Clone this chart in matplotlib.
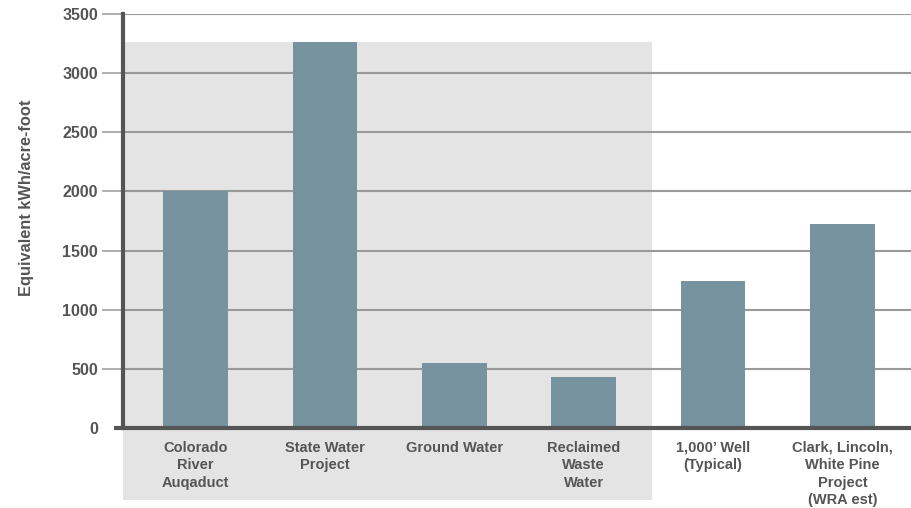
import matplotlib
matplotlib.use('Agg')
import matplotlib.pyplot as plt
from matplotlib.patches import Rectangle
import matplotlib.transforms as mtransforms

categories = ['Colorado\nRiver\nAuqaduct', 'State Water\nProject', 'Ground Water',
              'Reclaimed\nWaste\nWater', '1,000\u2019 Well\n(Typical)',
              'Clark, Lincoln,\nWhite Pine\nProject\n(WRA est)']
values = [2000, 3260, 550, 430, 1240, 1725]
y_ticks = [0, 500, 1000, 1500, 2000, 2500, 3000, 3500]
shaded_count = 4  # first four sources sit on the grey panel

text_color = '#555555'
bar_color = '#7893a0'
grid_color = '#999999'
panel_color = '#e4e4e4'

plt.rcParams['font.family'] = ['Liberation Sans', 'DejaVu Sans']
plt.rcParams['font.weight'] = 'bold'

fig = plt.figure(figsize=(9.11, 5.08), dpi=100)
ax = fig.add_axes([123 / 911, 1 - 428 / 508, 1 - 123 / 911, (428 - 14) / 508])

x = list(range(len(categories)))
ax.bar(x, values, width=0.5, color=bar_color, zorder=3)

ax.set_xlim(-0.56, 5.53)
ax.set_ylim(0, 3500)
ax.set_yticks(y_ticks)
ax.set_yticklabels([str(t) for t in y_ticks])
ax.set_xticks(x)
ax.set_xticklabels(categories)

# grey panel behind the first group, reaching below the axis
px_per_unit = (428 - 14) / 3500
panel_bottom = -(500 - 428) / px_per_unit
panel_top = max(values[:shaded_count])
panel = Rectangle((-0.56, panel_bottom), shaded_count - 0.5 + 0.03 + 0.56,
                  panel_top - panel_bottom, facecolor=panel_color,
                  edgecolor='none', zorder=0.1, clip_on=False)
ax.add_patch(panel)

ax.set_axisbelow(True)
ax.yaxis.grid(True, color=grid_color, linewidth=1.5, zorder=1)
ax.tick_params(axis='y', length=15, width=1.1, color=grid_color, pad=3,
               labelsize=11.5, labelcolor=text_color)
ax.yaxis.get_major_ticks()[0].tick1line.set_visible(False)
ax.tick_params(axis='x', length=0, pad=9, labelsize=10.5, labelcolor=text_color)
for lbl in ax.get_xticklabels():
    lbl.set_linespacing(1.32)
    lbl.set_verticalalignment('top')

for side in ['top', 'right', 'bottom']:
    ax.spines[side].set_visible(False)
ax.spines['left'].set_color(text_color)
ax.spines['left'].set_linewidth(3)

# baseline running a little past the left spine
trans = mtransforms.blended_transform_factory(ax.transAxes, ax.transData)
ax.plot([-9 / 788, 1], [0, 0], color=text_color, linewidth=3,
        transform=trans, clip_on=False, zorder=4, solid_capstyle='butt')

fig.text(27 / 911, 1 - 198 / 508, 'Equivalent kWh/acre-foot', rotation=90,
         ha='center', va='center', fontsize=11.8, color=text_color, fontweight='bold')

fig.savefig('out.png', dpi=100)
